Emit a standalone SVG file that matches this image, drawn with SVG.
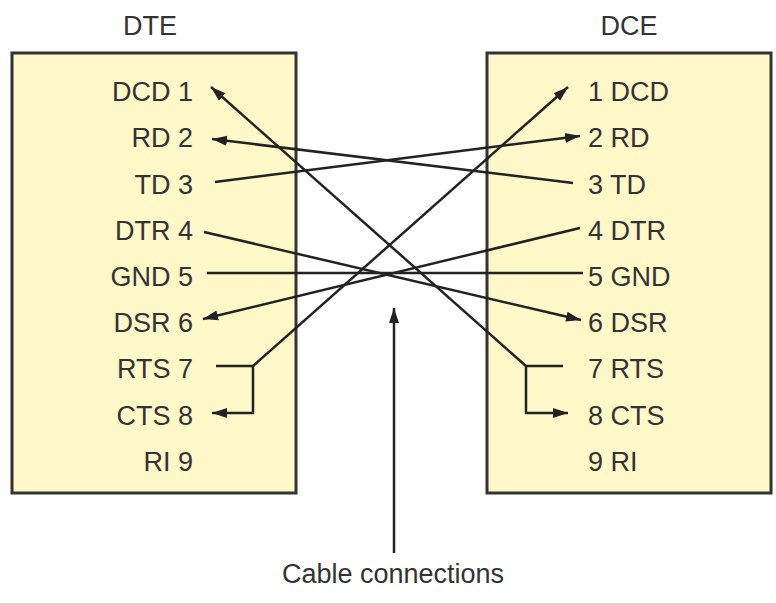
<svg xmlns="http://www.w3.org/2000/svg" width="776" height="603" viewBox="0 0 776 603">
<style>
.box{fill:#fff8c8;stroke:#333;stroke-width:3}
.t{font-family:"Liberation Sans",Arial,sans-serif;font-size:27px;fill:#333}
.l{text-anchor:end}
.title{text-anchor:middle}
.c{fill:none;stroke:#222;stroke-width:2.5}
</style>
<defs>
<marker id="ah" markerUnits="userSpaceOnUse" markerWidth="16" markerHeight="12" viewBox="0 0 16 12" refX="15" refY="6" orient="auto">
<path d="M0,1 L15,6 L0,11 z" fill="#222"/>
</marker>
</defs>
<rect width="776" height="603" fill="#fff"/>
<g id="dte">
<text class="t title" x="150" y="35">DTE</text>
<rect class="box" x="12" y="53" width="284" height="440"/>
<text class="t l" x="193" y="101">DCD 1</text>
<text class="t l" x="193" y="147">RD 2</text>
<text class="t l" x="193" y="194">TD 3</text>
<text class="t l" x="193" y="240">DTR 4</text>
<text class="t l" x="193" y="286">GND 5</text>
<text class="t l" x="193" y="332">DSR 6</text>
<text class="t l" x="193" y="378">RTS 7</text>
<text class="t l" x="193" y="425">CTS 8</text>
<text class="t l" x="193" y="471">RI 9</text>
</g>
<g id="dce">
<text class="t title" x="629" y="35">DCE</text>
<rect class="box" x="487" y="53" width="284" height="440"/>
<text class="t" x="588" y="101">1 DCD</text>
<text class="t" x="588" y="147">2 RD</text>
<text class="t" x="588" y="194">3 TD</text>
<text class="t" x="588" y="240">4 DTR</text>
<text class="t" x="588" y="286">5 GND</text>
<text class="t" x="588" y="332">6 DSR</text>
<text class="t" x="588" y="378">7 RTS</text>
<text class="t" x="588" y="425">8 CTS</text>
<text class="t" x="588" y="471">9 RI</text>
</g>
<g id="connectors">
<path class="c" d="M526,366 L211,87" marker-end="url(#ah)"/>
<path class="c" d="M253,366 L568,87" marker-end="url(#ah)"/>
<path class="c" d="M573,183 L212,139" marker-end="url(#ah)"/>
<path class="c" d="M215,182 L580,136" marker-end="url(#ah)"/>
<path class="c" d="M204,232 L581,320" marker-end="url(#ah)"/>
<path class="c" d="M580,228 L203,319" marker-end="url(#ah)"/>
<path class="c" d="M207,273 L583,273"/>
<path class="c" d="M216,366 L253,366 L253,413 L212,413" marker-end="url(#ah)"/>
<path class="c" d="M563,366 L526,366 L526,413 L568,413" marker-end="url(#ah)"/>
<path class="c" d="M394,553 L394,308" marker-end="url(#ah)"/>
</g>
<g id="label">
<text class="t title" x="393" y="583">Cable connections</text>
</g>
</svg>
